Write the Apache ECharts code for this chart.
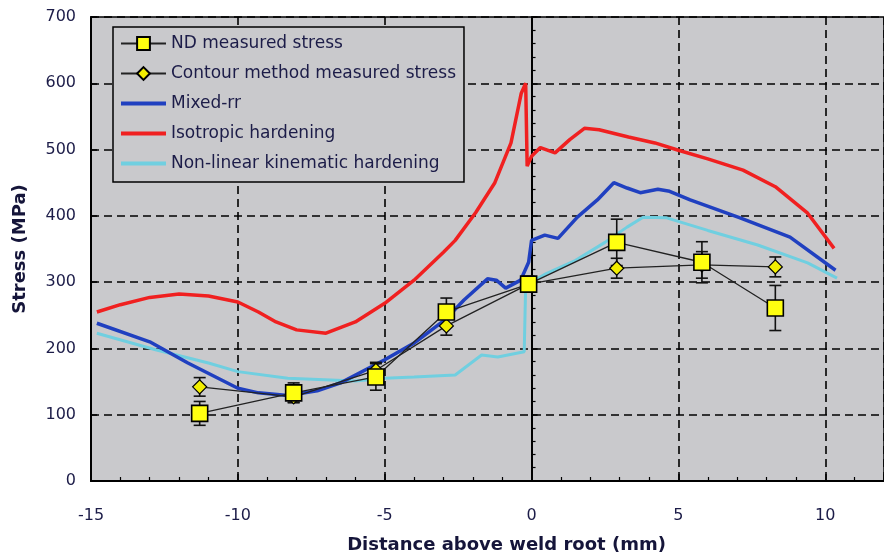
<!DOCTYPE html>
<html><head><meta charset="utf-8">
<script src="https://cdn.jsdelivr.net/npm/echarts@6/dist/echarts.min.js"></script>
<style>html,body{margin:0;padding:0;background:#fff}#c{width:884px;height:559px}</style>
</head><body><div id="c"></div>
<script>
// ND measured stress
const ndX = [-11.3, -8.1, -5.3, -2.9, -0.1, 2.9, 5.8, 8.3];
const ndY = [102, 133, 157, 255, 297, 360, 330, 261];
const ndErr = [18, 15, 20, 21, 12, 35, 31, 34];
// Contour method measured stress
const ctX = [-11.3, -8.1, -5.3, -2.9, -0.1, 2.9, 5.8, 8.3];
const ctY = [142, 127, 167, 234, 297, 321, 326, 323];
const ctErr = [14, 8, 12, 14, 10, 15, 20, 15];
// Mixed-rr
const mixX = [-14.8, -13, -11.7, -10, -9.3, -8.3, -7.3, -6.5, -5, -4, -2.95, -2.3, -1.5, -1.2, -0.88, -0.37, -0.1, 0, 0.45, 0.9, 1.56, 2.24, 2.8, 3.25, 3.7, 4.3, 4.7, 5.4, 7.1, 8.8, 10.35];
const mixY = [238, 210, 178, 140, 133, 129, 136, 148, 183, 208, 243, 273, 305, 303, 291, 303, 330, 363, 371, 366, 398, 424, 450, 442, 435, 440, 437, 424, 397, 368, 318];
// Isotropic hardening
const isoX = [-14.8, -14, -13, -12, -11, -10, -9.3, -8.7, -8, -7, -6, -5, -4, -3, -2.6, -1.9, -1.25, -0.7, -0.35, -0.2, -0.15, 0, 0.3, 0.8, 1.3, 1.8, 2.3, 3.3, 4.2, 5, 6, 7.2, 8.3, 9.4, 10.3];
const isoY = [255, 266, 277, 282, 279, 270, 255, 240, 228, 223, 240, 268, 303, 345, 363, 405, 450, 510, 585, 600, 475, 490, 503, 495, 515, 532, 530, 519, 510, 499, 486, 469, 444, 404, 351];
// Non-linear kinematic hardening
const kinX = [-14.8, -12.8, -11, -10, -8.3, -6, -5, -4, -2.6, -1.7, -1.15, -0.25, -0.2, 0, 0.5, 1.5, 2.5, 3.25, 3.8, 4.6, 6, 7.7, 9.4, 10.4];
const kinY = [223, 198, 178, 165, 155, 151, 155, 157, 160, 190, 187, 195, 297, 300, 313, 333, 360, 383, 398, 397, 378, 356, 329, 306];

const yTicks = [0, 100, 200, 300, 400, 500, 600, 700];

function pairs(xs, ys) { return xs.map((x, i) => [x, ys[i]]); }
function errData(xs, ys, es) { return xs.map((x, i) => [x, ys[i] - es[i], ys[i] + es[i]]); }
function errRender(params, api) {
  const x = api.value(0), lo = api.value(1), hi = api.value(2);
  const p1 = api.coord([x, hi]), p2 = api.coord([x, lo]);
  const w = 6;
  const st = { stroke: '#111', lineWidth: 1.6 };
  return { type: 'group', children: [
    { type: 'line', shape: { x1: p1[0], y1: p1[1], x2: p2[0], y2: p2[1] }, style: st },
    { type: 'line', shape: { x1: p1[0] - w, y1: p1[1], x2: p1[0] + w, y2: p1[1] }, style: st },
    { type: 'line', shape: { x1: p2[0] - w, y1: p2[1], x2: p2[0] + w, y2: p2[1] }, style: st }
  ]};
}

const txt = '#1c1c48';
const font = 'DejaVu Sans';
const dash = { color: '#000', width: 1.6, type: [8, 5] };
const lineIcon = 'path://M0 0H45V4H0Z';
const chart = echarts.init(document.getElementById('c'));
chart.setOption({
  animation: false,
  backgroundColor: '#fff',
  grid: { left: 91, top: 17, right: -4, bottom: 78, show: true, backgroundColor: '#c9c9cc', borderColor: '#000', borderWidth: 1.5 },
  legend: {
    orient: 'vertical', left: 113, top: 27,
    backgroundColor: '#c9c9cc', borderColor: '#000', borderWidth: 1.5,
    padding: [8, 8, 10, 7], itemGap: 13, itemWidth: 45, itemHeight: 16,
    textStyle: { fontFamily: font, fontSize: 17, color: txt },
    data: [
      { name: 'ND measured stress' },
      { name: 'Contour method measured stress' },
      { name: 'Mixed-rr', icon: lineIcon },
      { name: 'Isotropic hardening', icon: lineIcon },
      { name: 'Non-linear kinematic hardening', icon: lineIcon }
    ]
  },
  xAxis: {
    type: 'value', min: -15, max: 12, interval: 5,
    name: 'Distance above weld root (mm)', nameLocation: 'middle', nameGap: 55,
    nameTextStyle: { fontFamily: font, fontSize: 18, fontWeight: 'bold', color: '#15153a', padding: [0, 0, 0, 38] },
    axisLine: { lineStyle: { color: '#000', width: 2 } },
    axisTick: { inside: true, length: 7, lineStyle: { color: '#000', width: 1.5 } },
    minorTick: { show: true, splitNumber: 5, length: 4, lineStyle: { color: '#000', width: 1.2 } },
    axisLabel: { margin: 27, fontFamily: font, fontSize: 16, color: txt, showMaxLabel: false },
    splitLine: { show: true, lineStyle: dash }
  },
  yAxis: [{
    type: 'value', min: 0, max: 700, interval: 100, position: 'left',
    name: 'Stress (MPa)', nameLocation: 'middle', nameGap: 62,
    nameTextStyle: { fontFamily: font, fontSize: 18, fontWeight: 'bold', color: '#15153a' },
    axisLine: { show: true, onZero: false, lineStyle: { color: '#000', width: 2 } },
    axisTick: { show: true, inside: true, length: 6, lineStyle: { color: '#000', width: 1.5 } },
    axisLabel: { margin: 15, fontFamily: font, fontSize: 16, color: txt, formatter: v => yTicks.includes(v) ? String(v) : '' },
    splitLine: { show: true, lineStyle: dash }
  }, {
    type: 'value', min: 0, max: 700, interval: 100, position: 'left',
    axisLine: { show: true, onZero: true, lineStyle: { color: '#000', width: 2 } },
    axisTick: { show: true, inside: true, length: 6, lineStyle: { color: '#000', width: 1.5 } },
    minorTick: { show: true, splitNumber: 5, length: 4, lineStyle: { color: '#000', width: 1.2 } },
    axisLabel: { show: false },
    splitLine: { show: false }
  }],
  series: [
    { name: 'Isotropic hardening', type: 'line', symbol: 'none', data: pairs(isoX, isoY), lineStyle: { color: '#f02020', width: 3.5 }, itemStyle: { color: '#f02020' }, z: 3 },
    { name: 'Mixed-rr', type: 'line', symbol: 'none', data: pairs(mixX, mixY), lineStyle: { color: '#2040c0', width: 3.5 }, itemStyle: { color: '#2040c0' }, z: 4 },
    { name: 'Non-linear kinematic hardening', type: 'line', symbol: 'none', data: pairs(kinX, kinY), lineStyle: { color: '#70cfe0', width: 3 }, itemStyle: { color: '#70cfe0' }, z: 3 },
    { type: 'custom', renderItem: errRender, data: errData(ctX, ctY, ctErr), encode: { x: 0, y: [1, 2] }, z: 5 },
    { type: 'custom', renderItem: errRender, data: errData(ndX, ndY, ndErr), encode: { x: 0, y: [1, 2] }, z: 5 },
    { name: 'Contour method measured stress', type: 'line', symbol: 'diamond', symbolSize: 14, data: pairs(ctX, ctY),
      lineStyle: { color: '#222', width: 1.3 }, itemStyle: { color: '#f2ee00', borderColor: '#000', borderWidth: 1.2 }, z: 6 },
    { name: 'ND measured stress', type: 'line', symbol: 'rect', symbolSize: 16, data: pairs(ndX, ndY),
      lineStyle: { color: '#222', width: 1.3 }, itemStyle: { color: '#ffff10', borderColor: '#000', borderWidth: 1.6 }, z: 7 }
  ]
});
</script>
</body></html>
